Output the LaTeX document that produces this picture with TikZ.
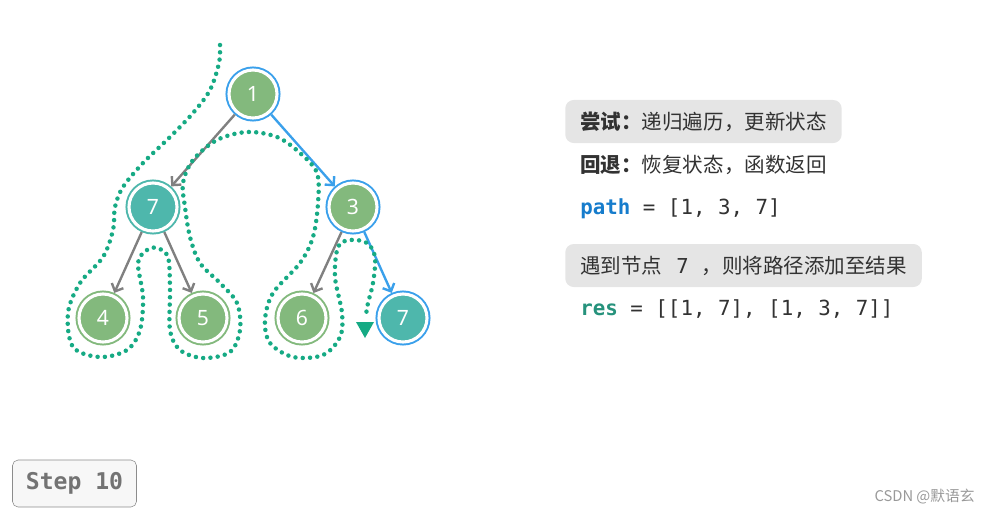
\documentclass[tikz,border=0pt]{standalone}
\usepackage{fontspec}
\setmainfont{Noto Sans}
\newfontfamily\cjk{Noto Sans CJK SC}
\newfontfamily\codefont{DejaVu Sans Mono}
\usetikzlibrary{arrows.meta,positioning}
\definecolor{leafgreen}{RGB}{131,185,125}
\definecolor{hitteal}{RGB}{78,183,172}
\definecolor{ringblue}{RGB}{58,160,235}
\definecolor{trailteal}{RGB}{22,170,132}
\definecolor{textgray}{RGB}{50,50,50}
\definecolor{pathblue}{RGB}{22,124,204}
\definecolor{resteal}{RGB}{38,146,124}

\tikzset{
  tnode/.style 2 args={circle, inner sep=0pt, minimum size=1.2cm, fill=#1,
    draw=white, line width=2.2pt, preaction={draw=#2, line width=5pt},
    outer sep=2.5pt, text=white, font=\fontsize{15}{17}\selectfont},
  edge/.style={line width=1.7pt, black!50, -{Straight Barb[length=4.5pt,width=9pt]}},
  hotedge/.style={edge, ringblue},
  hintbox/.style={fill=black!10, rounded corners=6pt, anchor=west,
    minimum height=1.075cm, inner xsep=0.375cm, text=textgray},
  cjktext/.style={font=\cjk\fontsize{14.6}{17}\selectfont, text=textgray},
  codetext/.style={font=\codefont\fontsize{14.8}{17}\selectfont, text=textgray}
}

\begin{document}
\begin{tikzpicture}[x=0.025cm, y=-0.025cm]
\useasboundingbox (0,0) rectangle (990,514);

% tree
\node[tnode={leafgreen}{ringblue}] (n1) at (253,94) {1};
\node[tnode={hitteal}{hitteal}] (n7a) at (153,207) {7};
\node[tnode={leafgreen}{ringblue}] (n3) at (353,207) {3};
\foreach \x/\lab in {103/4, 203/5, 302/6}{
  \node[tnode={leafgreen}{leafgreen}] (n\lab) at (\x,318) {\lab};
}
\node[tnode={hitteal}{ringblue}] (n7b) at (403,318) {7};

\draw[edge] (n1) -- (n7a);
\draw[hotedge] (n1) -- (n3);
\draw[edge] (n7a) -- (n4);
\draw[edge] (n7a) -- (n5);
\draw[edge] (n3) -- (n6);
\draw[hotedge] (n3) -- (n7b);

% traversal trail
\draw[trailteal, line width=3.2pt, line cap=round, dash pattern=on 0pt off 5.2pt]
  plot[smooth, tension=0.55] coordinates {
  (220,45) (219,63) (210,90) (193,113) (170,137) (143,163) (123,187) (115,207)
  (113,230) (103,257) (80,283) (68,313) (73,347) (100,357) (127,350) (140,330)
  (143,297) (138,263) (147,250) (157,248) (168,257) (170,290) (170,330) (180,350)
  (203,358) (230,352) (240,330) (237,303) (220,283) (200,263) (190,237) (185,207)
  (183,183) (193,160) (217,140) (247,132) (277,137) (300,153) (317,173) (318,203)
  (313,237) (300,263) (273,293) (265,320) (270,343) (293,357) (323,355) (340,337)
  (342,313) (335,277) (338,247) (350,240) (367,243) (375,257) (373,283) (368,303)
  (366,315)};
\fill[trailteal] (356,322) -- (374,322) -- (365,338) -- cycle;

% notes
\node[hintbox, cjktext] (try) at (565,121.5) {\textbf{尝试：}递归遍历，更新状态};
\node[cjktext, anchor=west, inner sep=0pt] (back) at (580,165) {\textbf{回退：}恢复状态，函数返回};
\node[codetext, anchor=west, inner sep=0pt] (path) at (580,209)
  {\textcolor{pathblue}{\bfseries path} = [1, 3, 7]};
\node[hintbox, cjktext] (found) at (565,265.5)
  {遇到节点\hspace{10pt}{\codefont 7}\hspace{9pt}，则将路径添加至结果};
\node[codetext, anchor=west, inner sep=0pt] (res) at (580,309)
  {\textcolor{resteal}{\bfseries res} = [[1, 7], [1, 3, 7]]};

% step badge and mark
\node[draw=black!45, fill=black!3, rounded corners=4pt, minimum width=3.1cm,
  minimum height=1.175cm, text=black!55, font=\codefont\bfseries\fontsize{16.4}{19}\selectfont]
  (step) at (74.5,483.5) {Step 10};
\node[anchor=east, inner sep=0pt, text=black!40, font=\cjk\fontsize{10.5}{12}\selectfont]
  (mark) at (975,497) {CSDN @默语玄};
\end{tikzpicture}
\end{document}
